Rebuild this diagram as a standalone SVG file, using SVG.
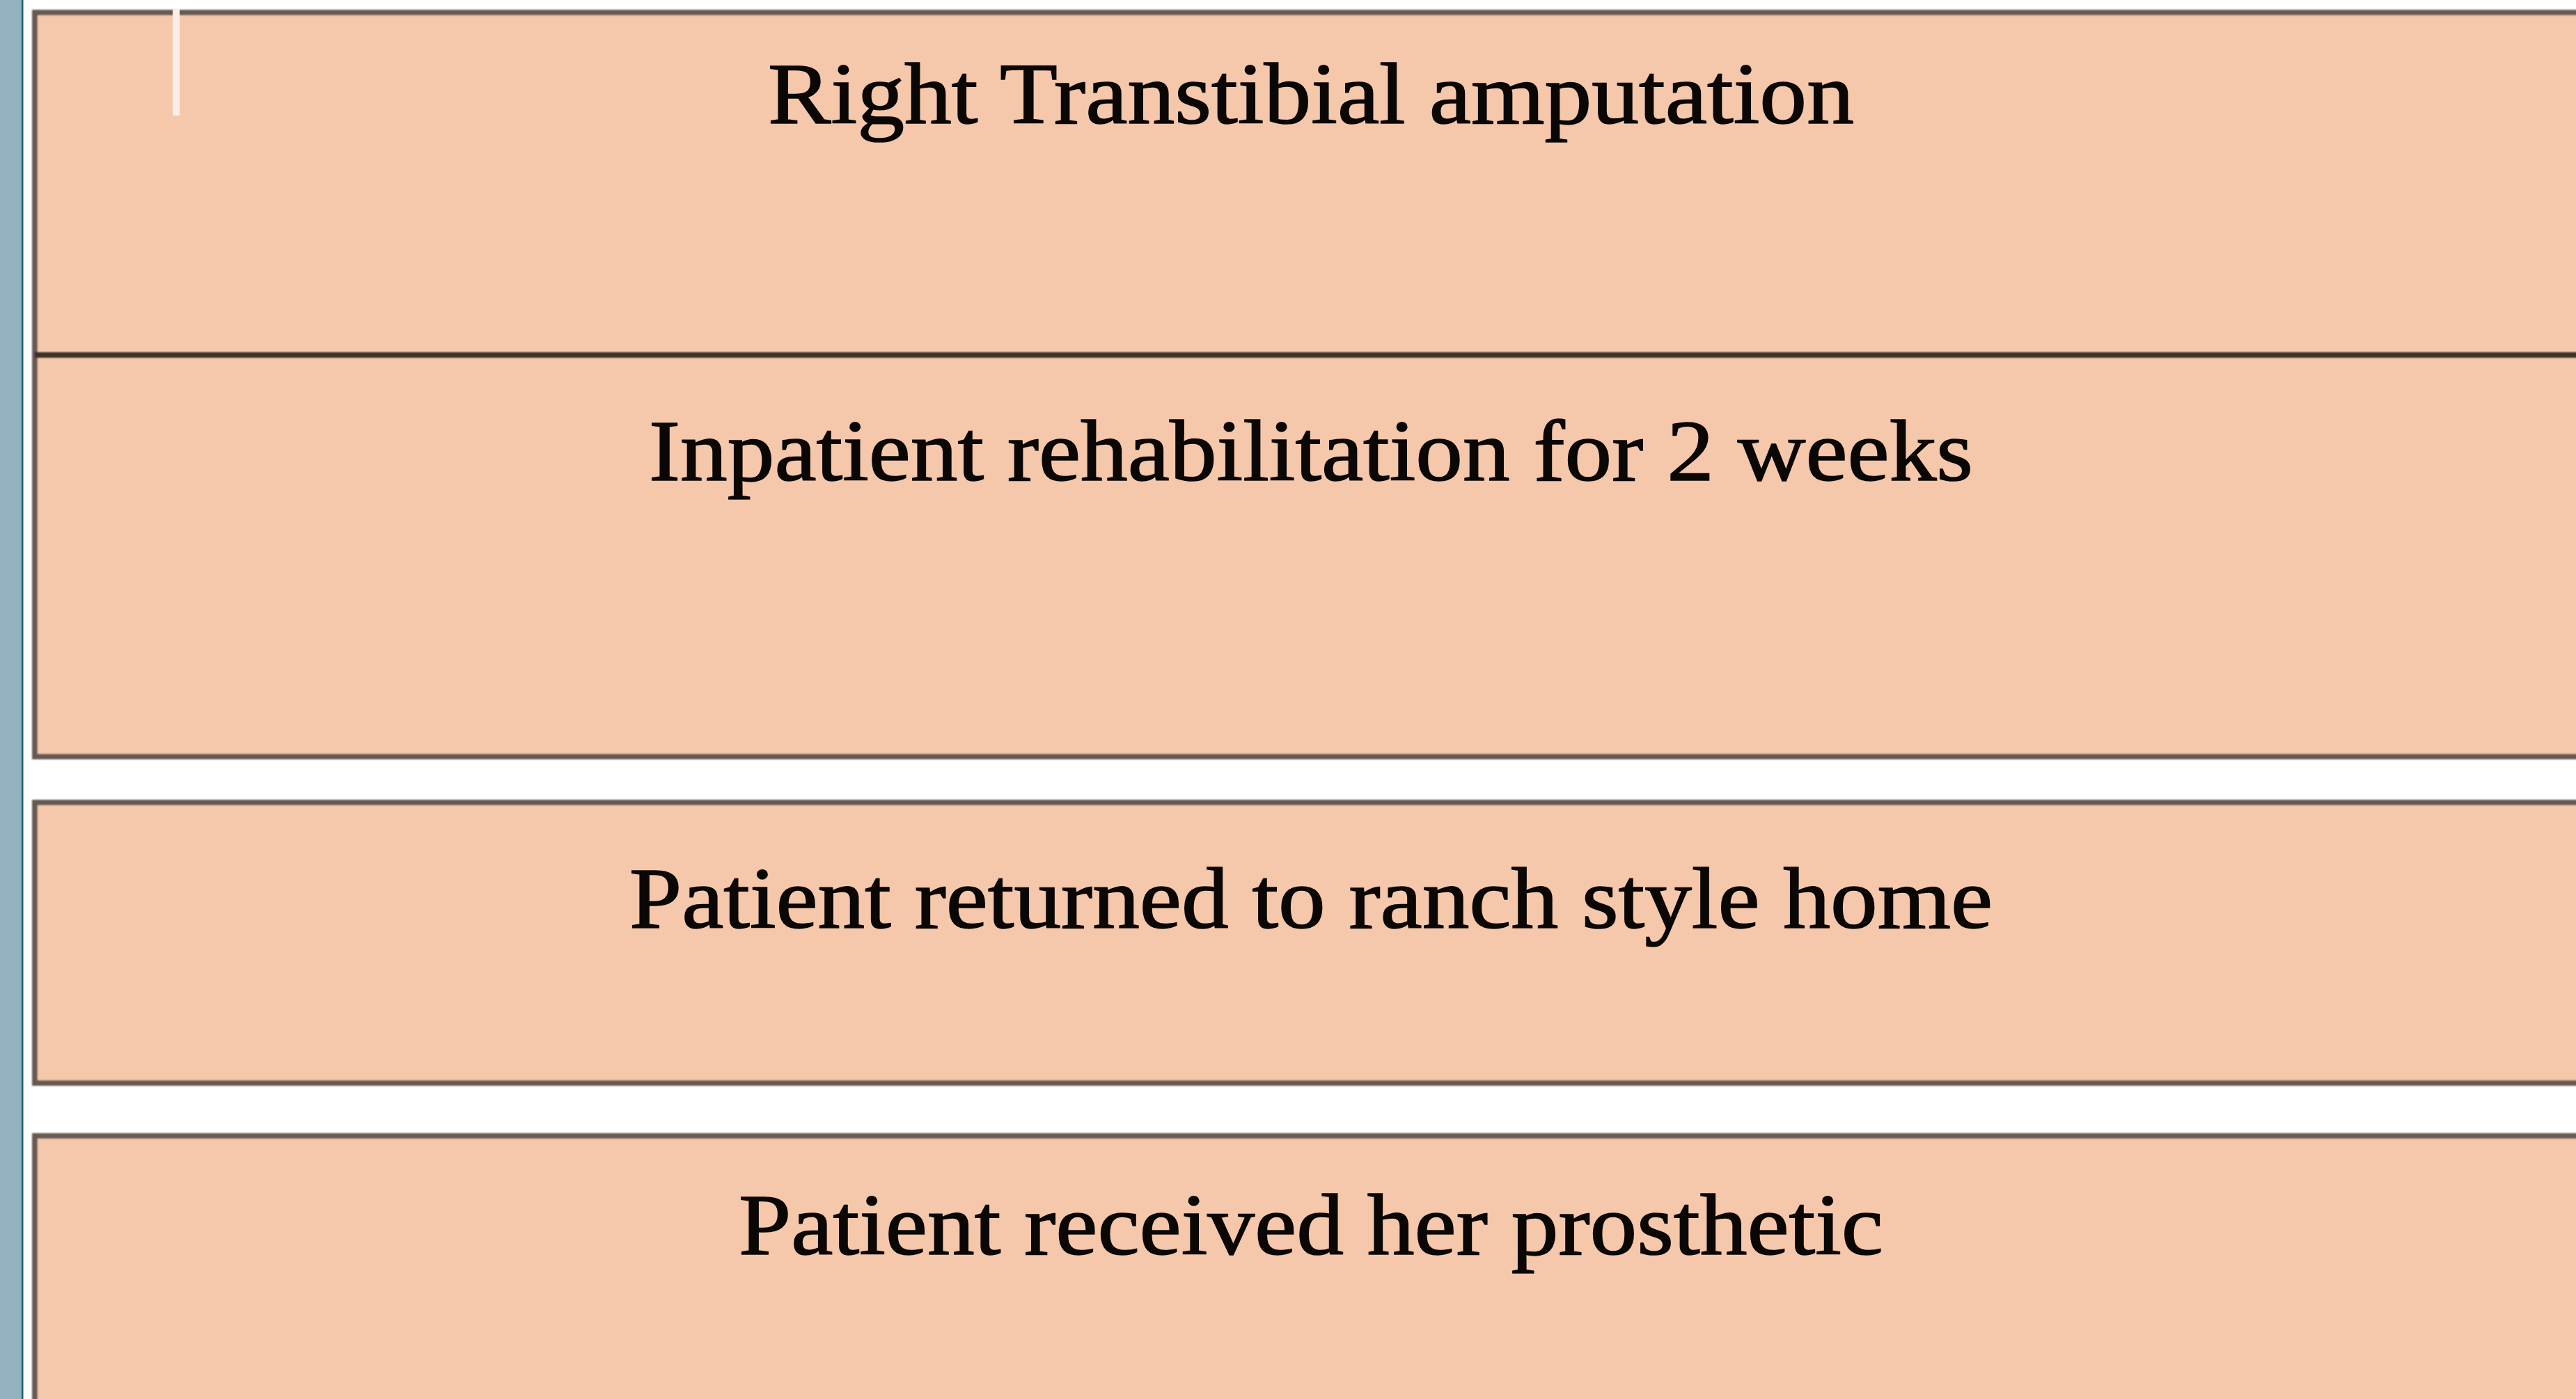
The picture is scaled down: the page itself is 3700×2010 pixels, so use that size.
<svg xmlns="http://www.w3.org/2000/svg" width="3700" height="2010" viewBox="0 0 3700 2010">
  <style>
    .box { fill: #f5c8ab; stroke: #665a53; stroke-width: 8; }
    .divider { fill: #3a302a; }
    .label { font-family: "Liberation Serif", "Times New Roman", serif; font-size: 125px; fill: #0a0705; stroke: #0a0705; stroke-width: 1.6; text-anchor: middle; }
  </style>
  <defs>
    <filter id="soft" filterUnits="userSpaceOnUse" x="0" y="0" width="3700" height="2010">
      <feGaussianBlur stdDeviation="1.2"/>
    </filter>
  </defs>
  <rect x="0" y="0" width="3700" height="2010" fill="#ffffff"/>
  <g id="side-strip">
    <rect x="0" y="0" width="31" height="2010" fill="#92b2bf"/>
    <rect x="31" y="0" width="2.5" height="2010" fill="#1f5870"/>
  </g>
  <g id="connectors"></g>
  <g id="node-amputation-rehab">
    <rect class="box" x="50" y="18" width="3700" height="1069" filter="url(#soft)"/>
    <rect class="divider" x="50" y="506" width="3660" height="8" filter="url(#soft)"/>
  </g>
  <g id="node-amputation">
    <text class="label" x="1883" y="177" textLength="1560" lengthAdjust="spacingAndGlyphs">Right Transtibial amputation</text>
  </g>
  <g id="node-inpatient">
    <text class="label" x="1883" y="690" textLength="1902" lengthAdjust="spacingAndGlyphs">Inpatient rehabilitation for 2 weeks</text>
  </g>
  <g id="node-home">
    <rect class="box" x="50" y="1153" width="3700" height="403" filter="url(#soft)"/>
    <text class="label" x="1883" y="1333" textLength="1958" lengthAdjust="spacingAndGlyphs">Patient returned to ranch style home</text>
  </g>
  <g id="node-prosthetic">
    <rect class="box" x="50" y="1632" width="3700" height="420" filter="url(#soft)"/>
    <text class="label" x="1883" y="1802" textLength="1644" lengthAdjust="spacingAndGlyphs">Patient received her prosthetic</text>
  </g>
  <rect id="cursor-tick" x="248" y="13" width="10" height="153" fill="#f9eee8"/>
</svg>
